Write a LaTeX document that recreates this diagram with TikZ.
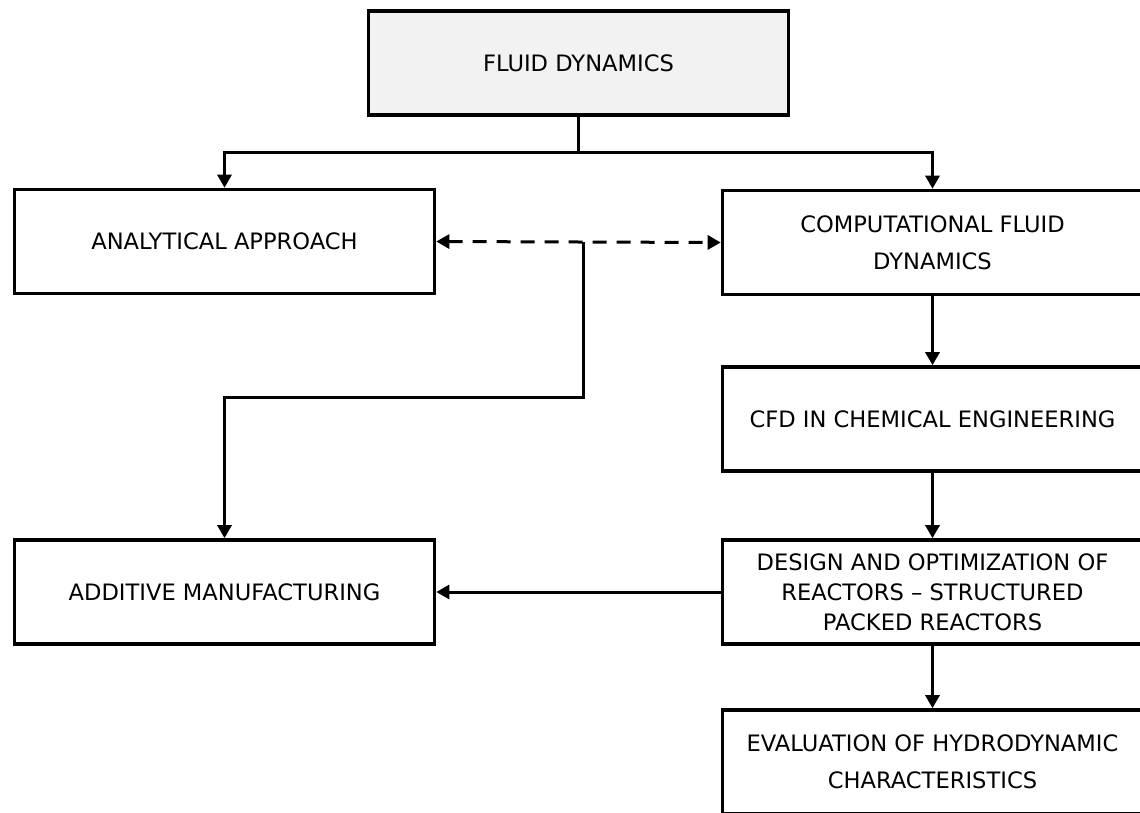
\documentclass[tikz,border=0pt]{standalone}
\usepackage{fontspec}
\setmainfont{DejaVu Sans}
\usetikzlibrary{arrows.meta}
\definecolor{topgrey}{HTML}{F2F2F2}

\begin{document}
\begin{tikzpicture}[x=0.5pt,y=-0.5pt]
      \tikzset{box/.style={draw, line width=1.8pt, minimum width=210pt, minimum height=52pt,
          inner sep=0pt, align=center, font=\fontsize{11.3}{18.5}\selectfont},
        arr/.style={line width=1.5pt, -{Triangle[length=6.5pt,width=7pt]}},
        dasharr/.style={line width=1.5pt, dash pattern=on 7pt off 5pt,
          {Triangle[length=6.5pt,width=7pt]}-{Triangle[length=6.5pt,width=7pt]}}}
      \clip (0,0) rectangle (1140,813);
      % boxes
      \node[box, fill=topgrey] (fluid) at (578.5,63) {FLUID DYNAMICS};
      \node[box] (analytic) at (224.5,241.5) {ANALYTICAL APPROACH};
      \node[box] (cfd) at (932.5,242.5) {COMPUTATIONAL FLUID\\DYNAMICS};
      \node[box] (chemeng) at (932.5,419) {CFD IN CHEMICAL ENGINEERING};
      \node[box, font=\fontsize{11.3}{15}\selectfont] (design) at (932.5,592)
          {DESIGN AND OPTIMIZATION OF\\REACTORS -- STRUCTURED\\PACKED REACTORS};
      \node[box] (evaluation) at (932.5,762) {EVALUATION OF HYDRODYNAMIC\\CHARACTERISTICS};
      \node[box] (additive) at (224.5,592) {ADDITIVE MANUFACTURING};
      % connectors
      \coordinate (split) at (578.5,152);
      \coordinate (mid) at (583,242);
      \coordinate (bend) at (583,397);
      \draw[line width=1.5pt] (fluid.south) -- (split);
      \draw[arr] (split) -| (analytic.north);
      \draw[arr] (split) -| (cfd.north);
      \draw[dasharr] (analytic.east) -- (cfd.west);
      \draw[arr] (mid) -- (bend) -| (additive.north);
      \draw[arr] (cfd.south) -- (chemeng.north);
      \draw[arr] (chemeng.south) -- (design.north);
      \draw[arr] (design.south) -- (evaluation.north);
      \draw[arr] (design.west) -- (additive.east);
\end{tikzpicture}
\end{document}
